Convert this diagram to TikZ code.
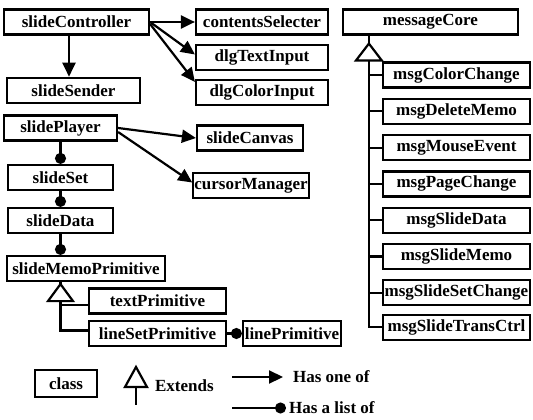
\documentclass[tikz,border=0pt]{standalone}
\usepackage{fontspec}
\setmainfont{Liberation Serif}
\usetikzlibrary{positioning,arrows.meta,calc}

\begin{document}
\begin{tikzpicture}[x=1pt, y=1pt, node distance=36.3pt, line width=2.2pt, font=\fontsize{17}{20}\selectfont\bfseries]
    \tikzstyle{cls} = [rectangle, draw, minimum height=25pt, inner sep=1pt, text centered, fill=white]
    \tikzstyle{has} = [-{Triangle[length=14pt, width=13pt]}]
    \tikzstyle{list} = [-{Circle[length=11pt]}]
    \tikzstyle{ext} = [draw, fill=white, line join=miter]
    \tikzstyle{legtext} = [anchor=west, inner sep=1pt]
    \useasboundingbox (0,0) rectangle (533,-420);

    % Controller part
    \node [cls, minimum width=145pt] (slideController) at (76.5,-22) {slideController};
    \node [cls, minimum width=132pt] (contentsSelecter) at (262,-22) {contentsSelecter};
    \node [cls, minimum width=132pt, below of=contentsSelecter, yshift=0.8pt] (dlgTextInput) {dlgTextInput};
    \node [cls, minimum width=132pt, below of=dlgTextInput, yshift=1.3pt] (dlgColorInput) {dlgColorInput};
    \node [cls, minimum width=133pt, below of=slideController, yshift=-32pt, xshift=-3pt] (slideSender) {slideSender};

    % Player part
    \node [cls, minimum width=113pt] (slidePlayer) at (60.5,-128) {slidePlayer};
    \node [cls, minimum width=106pt] (slideCanvas) at (250,-138) {slideCanvas};
    \node [cls, minimum width=114pt] (cursorManager) at (251,-185.5) {cursorManager};
    \node [cls, minimum width=105pt, below of=slidePlayer, yshift=-13.2pt] (slideSet) {slideSet};
    \node [cls, minimum width=105pt, below of=slideSet, yshift=-6.7pt] (slideData) {slideData};
    \node [cls, minimum width=158pt] (slideMemoPrimitive) at (86,-268.5) {slideMemoPrimitive};
    \node [cls, minimum width=137pt] (textPrimitive) at (157.5,-301) {textPrimitive};
    \node [cls, minimum width=137pt, below of=textPrimitive, yshift=3.8pt] (lineSetPrimitive) {lineSetPrimitive};
    \node [cls, minimum width=98pt, right of=lineSetPrimitive, xshift=98.2pt] (linePrimitive) {linePrimitive};

    % Messages
    \node [cls, minimum width=175pt] (messageCore) at (430.5,-22) {messageCore};
    \node [cls, minimum width=147pt] (msgColorChange) at (456.5,-75) {msgColorChange};
    \node [cls, minimum width=147pt, below of=msgColorChange] (msgDeleteMemo) {msgDeleteMemo};
    \node [cls, minimum width=147pt, below of=msgDeleteMemo] (msgMouseEvent) {msgMouseEvent};
    \node [cls, minimum width=147pt, below of=msgMouseEvent] (msgPageChange) {msgPageChange};
    \node [cls, minimum width=147pt, below of=msgPageChange] (msgSlideData) {msgSlideData};
    \node [cls, minimum width=147pt, below of=msgSlideData] (msgSlideMemo) {msgSlideMemo};
    \node [cls, minimum width=147pt, below of=msgSlideMemo] (msgSlideSetChange) {msgSlideSetChange};
    \node [cls, minimum width=147pt, below of=msgSlideSetChange, yshift=2pt] (msgSlideTransCtrl) {msgSlideTransCtrl};

    % Has one of
    \draw [has] (slideController.east) -- (contentsSelecter.west);
    \draw [has] (slideController.east) -- ([yshift=3pt]dlgTextInput.west);
    \draw [has] ([yshift=-2pt]slideController.east) -- ([yshift=-3pt]dlgColorInput.north west);
    \draw [has] ([xshift=-7.5pt]slideController.south) -- ([xshift=-4.5pt]slideSender.north);
    \draw [has] (slidePlayer.east) -- (slideCanvas.west);
    \draw [has] ([yshift=-4pt]slidePlayer.east) -- ([yshift=3pt]cursorManager.west);

    % Has a list of
    \draw [list] (slidePlayer) -- (slideSet);
    \draw [list] (slideSet) -- (slideData);
    \draw [list] (slideData.south) -- (slideData.south |- slideMemoPrimitive.north);
    \draw [list] (lineSetPrimitive) -- (linePrimitive);

    % Extends (memo primitives)
    \coordinate (memoTri) at ($(slideData.south |- slideMemoPrimitive.south)+(0,-2)$);
    \coordinate (memoBase) at ($(memoTri)+(0,-17)$);
    \coordinate (textJoin) at ([yshift=-4pt]textPrimitive.west);
    \coordinate (lineJoin) at ([yshift=3pt]lineSetPrimitive.west);
    \draw (slideData.south |- slideMemoPrimitive.south) -- (memoTri);
    \draw [ext] (memoTri) -- ++(-12.5,-17) -- ++(25,0) -- cycle;
    \draw (memoBase) |- (lineJoin);
    \draw (memoBase |- textJoin) -- (textJoin);

    % Extends (messages)
    \coordinate (msgTri) at ([xshift=27pt, yshift=-8pt]messageCore.south west);
    \coordinate (msgBase) at ($(msgTri)+(0,-17)$);
    \draw (msgTri |- messageCore.south) -- (msgTri);
    \draw [ext] (msgTri) -- ++(-13,-17) -- ++(26,0) -- cycle;
    \draw (msgBase) |- (msgSlideTransCtrl.west);
    \draw (msgBase |- msgColorChange.west) -- (msgColorChange.west);
    \draw (msgBase |- msgDeleteMemo.west) -- (msgDeleteMemo.west);
    \draw (msgBase |- msgMouseEvent.west) -- (msgMouseEvent.west);
    \draw (msgBase |- msgPageChange.west) -- (msgPageChange.west);
    \draw (msgBase |- msgSlideData.west) -- (msgSlideData.west);
    \draw (msgBase |- msgSlideMemo.west) -- (msgSlideMemo.west);
    \draw (msgBase |- msgSlideSetChange.west) -- (msgSlideSetChange.west);

    % Legend
    \node [cls, minimum width=62pt, minimum height=27pt] (legClass) at (66,-383.5) {class};
    \coordinate (legTri) at (136,-367);
    \coordinate (legBase) at (136,-387);
    \coordinate (legEnd) at (136,-405);
    \draw (legBase) -- (legEnd);
    \draw [ext] (legTri) -- ++(-11,-20) -- ++(22,0) -- cycle;
    \node [legtext] (legExtends) at (153,-386) {Extends};
    \coordinate (legOneStart) at (232,-377);
    \node [legtext] (legOne) at (291,-377) {Has one of};
    \draw [has] (legOneStart) -- ([xshift=-8pt]legOne.west);
    \coordinate (legListStart) at (232,-408);
    \node [legtext] (legList) at (287,-408) {Has a list of};
    \draw [list] (legListStart) -- ([xshift=-1pt]legList.west);
\end{tikzpicture}
\end{document}
